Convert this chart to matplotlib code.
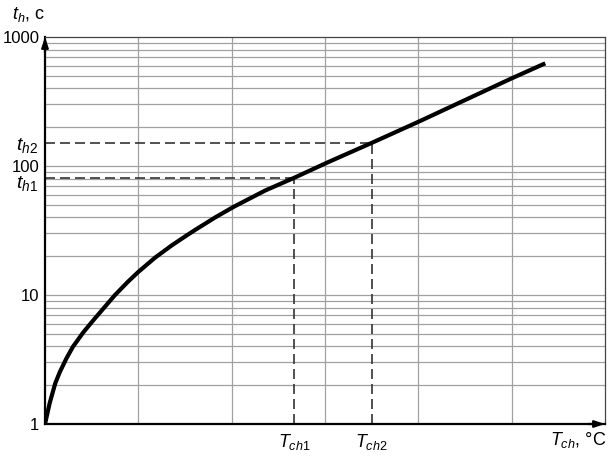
import numpy as np
import matplotlib.pyplot as plt

plt.rcParams['font.family'] = ['Liberation Sans', 'DejaVu Sans']
plt.rcParams['mathtext.fontset'] = 'custom'
plt.rcParams['mathtext.rm'] = 'Liberation Sans'
plt.rcParams['mathtext.it'] = 'Liberation Sans:italic'

# curve (x in grid units, y in seconds)
temp = [0, 0.05, 0.11, 0.16, 0.23, 0.30, 0.41, 0.52, 0.59, 0.75, 0.89, 1.0,
        1.18, 1.36, 1.5, 1.61, 1.82, 2.02, 2.36, 2.67, 3.02, 3.5, 4.0, 5.0, 5.36]
time = [1, 1.45, 2.07, 2.54, 3.23, 3.98, 5.13, 6.4, 7.33, 10.0, 12.7, 15.1,
        19.5, 24.3, 28.4, 32, 39.8, 48.2, 64.6, 81, 106, 151, 220, 478, 625]

t_ch = [2.67, 3.5]
t_h = [81, 151]
ch_labels = [r'$T_{ch1}$', r'$T_{ch2}$']
h_labels = [r'$t_{h1}$', r'$t_{h2}$']
y_ticks = [1, 10, 100, 1000]

fig = plt.figure(figsize=(6.16, 4.58), dpi=100)
ax = fig.add_axes([45/616, 34/458, 560/616, 387/458])
ax.set_yscale('log')
ax.set_xlim(0, 6)
ax.set_ylim(1, 1000)

# grid
grid_c = '#a0a0a0'
for v in range(1, 6):
    ax.axvline(v, color=grid_c, lw=0.9, zorder=1)
for dec in [1, 10, 100]:
    for m in range(2, 10):
        ax.axhline(dec * m, color=grid_c, lw=0.9, zorder=1)
for v in [10, 100]:
    ax.axhline(v, color=grid_c, lw=0.9, zorder=1)

# dashed guides
for xv, yv in zip(t_ch, t_h):
    ax.plot([0, xv], [yv, yv], color='#333333', lw=1.2, ls=(0, (6, 3)), zorder=2)
    ax.plot([xv, xv], [1, yv], color='#333333', lw=1.2, ls=(0, (6, 3)), zorder=2)

ax.plot(temp, time, color='black', lw=3, solid_capstyle='butt',
        solid_joinstyle='round', zorder=3)

for s in ['left', 'bottom']:
    ax.spines[s].set_linewidth(1.6)
    ax.spines[s].set_color('black')
for s in ['top', 'right']:
    ax.spines[s].set_linewidth(0.9)
    ax.spines[s].set_color('#444444')

ax.set_xticks([])
ax.set_yticks(y_ticks)
ax.set_yticklabels([str(v) for v in y_ticks])
ax.yaxis.set_minor_locator(plt.NullLocator())
ax.tick_params(axis='y', length=0, pad=4, labelsize=12)

# arrows
ax.annotate('', xy=(0, 1.0), xytext=(0, 0.96), xycoords='axes fraction',
            arrowprops=dict(arrowstyle='-|>,head_length=0.6,head_width=0.2',
                            color='black', lw=1.6, shrinkA=0, shrinkB=0))
ax.annotate('', xy=(1.0, 0), xytext=(0.97, 0), xycoords='axes fraction',
            arrowprops=dict(arrowstyle='-|>,head_length=0.6,head_width=0.2',
                            color='black', lw=1.6, shrinkA=0, shrinkB=0))

# labels for guides
for yv, lab, dy in zip(t_h, h_labels, [-4, -2]):
    ax.annotate(lab, xy=(0, yv), xycoords=ax.get_yaxis_transform(),
                xytext=(-5, dy), textcoords='offset points',
                ha='right', va='center', fontsize=14)
for xv, lab in zip(t_ch, ch_labels):
    ax.annotate(lab, xy=(xv, 0), xycoords=ax.get_xaxis_transform(),
                xytext=(0, -6), textcoords='offset points',
                ha='center', va='top', fontsize=13)

fig.text(12/616, 1 - 14/458, r'$t_h$, с', ha='left', va='center', fontsize=13)
fig.text(606/616, 1 - 440/458, r'$T_{ch}$, °C', ha='right', va='center', fontsize=13)

fig.savefig('out.png', dpi=100)
